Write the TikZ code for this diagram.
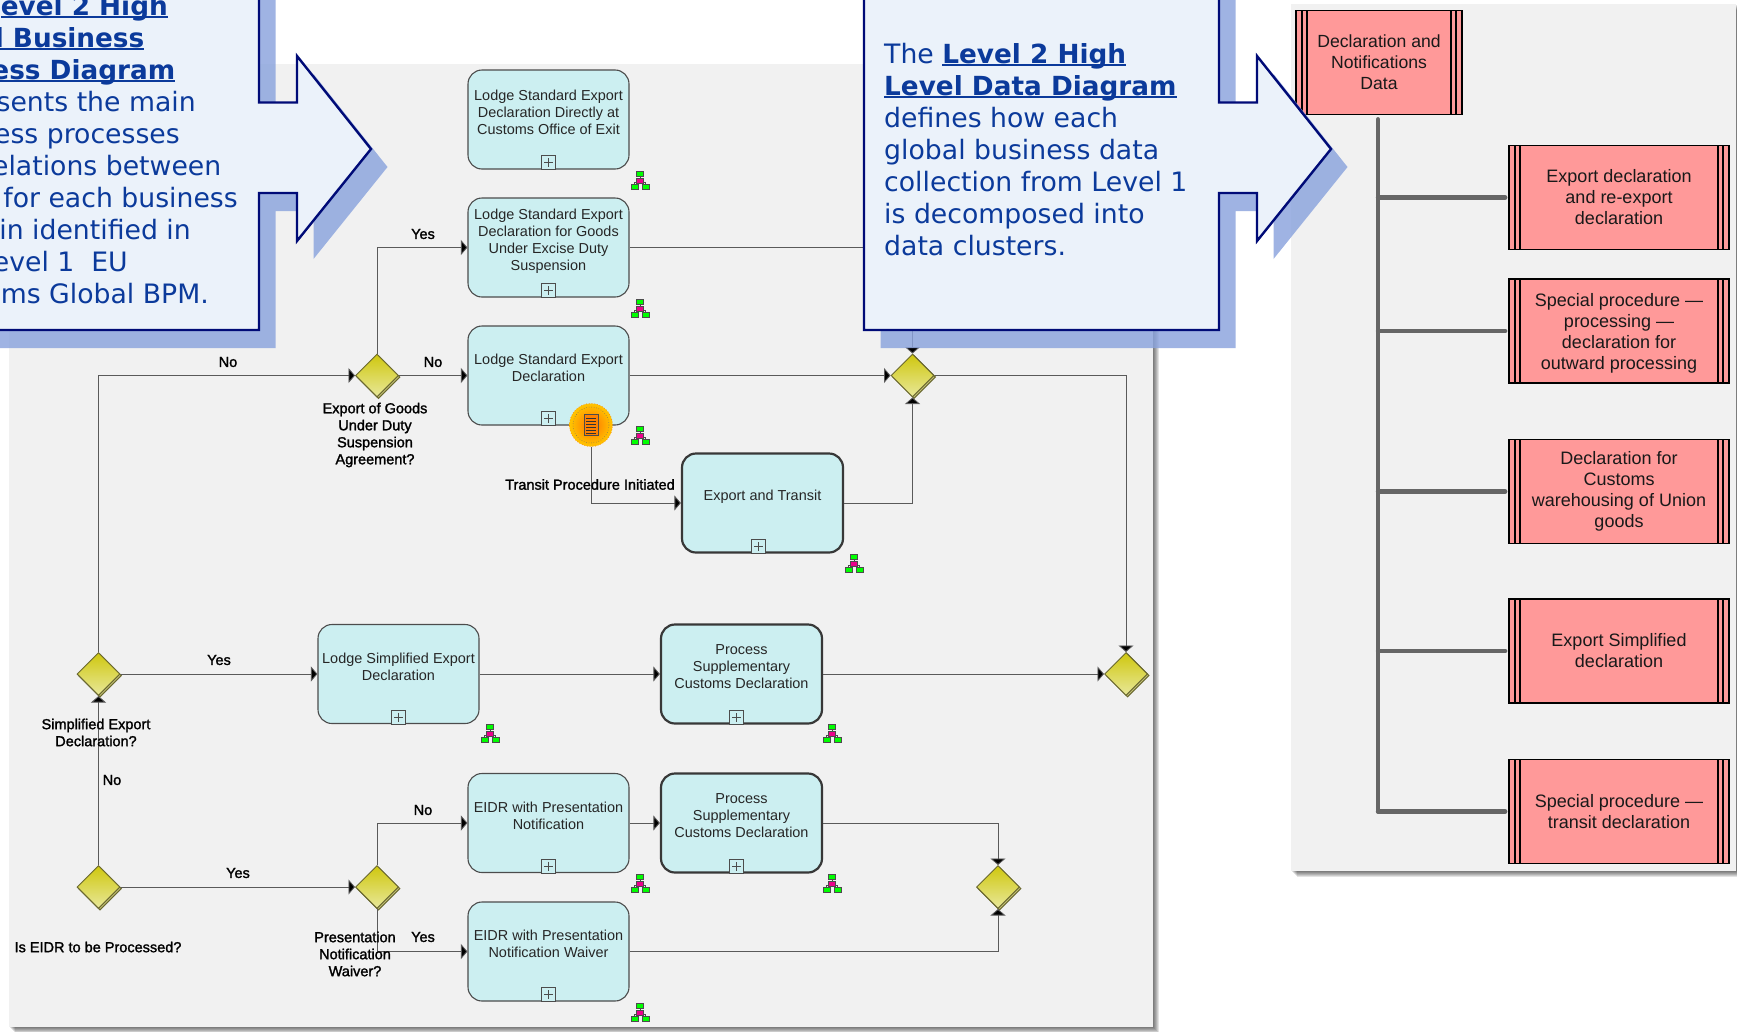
\documentclass[tikz,border=0pt]{standalone}
\usepackage{fontspec}
\usetikzlibrary{arrows.meta,shapes.geometric,shadows,calc}
\setmainfont{Liberation Sans}
\newfontfamily\lblfont{Liberation Sans}[FakeBold=1.6]
\newfontfamily\callfont{DejaVu Sans}
\definecolor{panelgray}{HTML}{F1F1F1}
\definecolor{taskfill}{HTML}{CCEFF1}
\definecolor{connc}{HTML}{5A5A5A}
\definecolor{redfill}{HTML}{FF9999}
\definecolor{callfill}{HTML}{EBF2FA}
\definecolor{callline}{HTML}{000B77}
\definecolor{callshadow}{HTML}{8AA3DD}
\definecolor{calltext}{HTML}{0B3A9B}
\definecolor{gatetop}{HTML}{CFC70E}
\definecolor{gatebot}{HTML}{E8E89A}
\definecolor{gateline}{HTML}{6A6830}
\definecolor{gateshad}{HTML}{C9C77A}
\newcommand{\tasktxt}[1]{\raisebox{2pt}[0pt][0pt]{\begin{tabular}[c]{@{}c@{}}#1\end{tabular}}}
\newsavebox{\ulbox}
\newcommand{\ulbold}[1]{\sbox{\ulbox}{\fontsize{26.3}{32}\selectfont\bfseries #1}\rlap{\usebox{\ulbox}}\rule[-3pt]{\wd\ulbox}{2.2pt}}
\tikzset{
  x=1pt,y=-1pt,
  taskbox/.style={draw=black!70,line width=1.1pt,fill=taskfill,rounded corners=14pt,minimum width=161pt,minimum height=99pt,inner sep=0pt,text=black!85,font=\fontsize{14.45}{17}\selectfont,align=center},
  thicktask/.style={taskbox,draw=black!78,line width=2.2pt},
  gate/.style={diamond,aspect=1,draw=gateline,line width=1pt,top color=gatetop,bottom color=gatebot,minimum width=43pt,minimum height=43pt,inner sep=0pt,copy shadow={shadow xshift=1.5pt,shadow yshift=-1.5pt,fill=gateshad,draw=gateline,opacity=1}},
  conn/.style={draw=connc,line width=.85pt,-{Triangle[length=6.5pt,width=15pt,fill=black]}},
  lbl/.style={font=\lblfont\fontsize{14.5}{17}\selectfont,align=center,inner sep=0pt,text=black},
  marker/.style={draw=black!70,line width=.7pt,fill=taskfill,minimum size=14pt,inner sep=0pt},
  redbox/.style={draw=black,line width=1.6pt,fill=redfill,inner sep=0pt,align=center,text=black!90,font=\fontsize{18}{21}\selectfont,
    path picture={
      \path (path picture bounding box.south west) coordinate (@sw) (path picture bounding box.north east) coordinate (@ne);
      \draw[black,line width=1.4pt] ([xshift=6pt]@sw) -- ([xshift=6pt]@sw |- @ne);
      \draw[black,line width=1.4pt] ([xshift=11pt]@sw) -- ([xshift=11pt]@sw |- @ne);
      \draw[black,line width=1.4pt] ([xshift=-6pt]@ne) -- ([xshift=-6pt]@ne |- @sw);
      \draw[black,line width=1.4pt] ([xshift=-11pt]@ne) -- ([xshift=-11pt]@ne |- @sw);
    }},
  trunkline/.style={draw=black!60,line width=4.4pt,line cap=round},
  callshape/.style={draw=callline,line width=2.4pt,fill=callfill,line join=miter},
  callshad/.style={fill=callshadow,opacity=.82},
  calltxt/.style={font=\callfont\fontsize{26.7}{32}\selectfont,text=calltext,inner sep=0pt},
  orgicon/.pic={
    \draw[black!70,line width=.5pt] (0,-5) -- (0,0) (-5.5,6) -- (-5.5,2) -- (5.5,2) -- (5.5,6);
    \draw[black!70,line width=.5pt,fill=green] (-3.5,-9) rectangle (3.5,-4);
    \draw[black!70,line width=.5pt,fill=magenta] (-3.5,-2) rectangle (3.5,3);
    \draw[black!70,line width=.5pt,fill=green] (-9,4) rectangle (-2,9);
    \draw[black!70,line width=.5pt,fill=green] (2,4) rectangle (9,9);
  }
}
\begin{document}
\begin{tikzpicture}
\path[use as bounding box] (0,0) rectangle (1737,1031);
\fill[white] (0,0) rectangle (1737,1031);
% panels with soft shadow
\foreach \d in {1,2,3,4,5,6}{
  \fill[black,opacity=.11] (9+\d,64+\d) rectangle (1153+\d,1027+\d);
  \fill[black,opacity=.11] (1291+\d,4+\d) rectangle (1736+\d,871+\d);
}
\fill[panelgray] (9,64) rectangle (1153,1027);
\fill[panelgray] (1291,4) rectangle (1736,871);

% tasks
\node[taskbox] (t1) at (548.5,119.5) {\tasktxt{Lodge Standard Export\\Declaration Directly at\\Customs Office of Exit}};
\node[taskbox] (t2) at (548.5,247.5) {\tasktxt{Lodge Standard Export\\Declaration for Goods\\Under Excise Duty\\Suspension}};
\node[taskbox] (t3) at (548.5,375.5) {\tasktxt{Lodge Standard Export\\Declaration}};
\node[thicktask] (et) at (762.5,503) {\tasktxt{Export and Transit}};
\node[taskbox] (ls) at (398.5,674) {\tasktxt{Lodge Simplified Export\\Declaration}};
\node[thicktask] (ps1) at (741.5,674) {\tasktxt{Process\\Supplementary\\Customs Declaration}};
\node[taskbox] (e1) at (548.5,823) {\tasktxt{EIDR with Presentation\\Notification}};
\node[thicktask] (ps2) at (741.5,823) {\tasktxt{Process\\Supplementary\\Customs Declaration}};
\node[taskbox] (e2) at (548.5,951.5) {\tasktxt{EIDR with Presentation\\Notification Waiver}};

% gateways
\node[gate] (g1) at (377,375.5) {};
\node[gate] (sim) at (98.5,674) {};
\node[gate] (eidr) at (98.5,887) {};
\node[gate] (pres) at (377,887) {};
\node[gate] (m1) at (912.5,375.5) {};
\node[gate] (mr) at (1126,674) {};
\node[gate] (ml) at (998,887) {};

% expand markers
\foreach \tt/\dx in {t1/0,t2/0,t3/0,et/-4,ls/0,ps1/-5,e1/0,ps2/-5,e2/0}{
  \node[marker] (mk\tt) at ($(\tt.south)+(\dx,-7)$) {};
  \draw[black!70,line width=.6pt] ($(mk\tt.center)+(-4.5,0)$) -- ($(mk\tt.center)+(4.5,0)$) ($(mk\tt.center)+(0,-4.5)$) -- ($(mk\tt.center)+(0,4.5)$);
}

% intermediate event
\node[circle,minimum size=43pt,inner sep=0pt,draw=orange,line width=.7pt,dotted,inner color=orange!90!red,outer color=yellow!55!orange] (ev) at (591,425) {};
\draw[black!60,line width=.5pt,dotted] (ev.center) circle (18);
\draw[black!70,line width=.8pt,fill=orange] (584,414.5) rectangle (598,435.5);
\foreach \yy in {418,421,424,427,430,433}{\draw[black!80,line width=.9pt] (586,\yy) -- (596,\yy);}

% connectors
\draw[conn] (sim.north) |- (g1.west);
\draw[conn] (g1.north) |- (t2.west);
\draw[conn] (g1.east) -- (t3.west);
\draw[conn] (t2.east) -| (m1.north);
\draw[conn] (t3.east) -- (m1.west);
\draw[conn] (ev.south) |- (et.west);
\draw[conn] (et.east) -| (m1.south);
\draw[conn] (m1.east) -| (mr.north);
\draw[conn] (sim.east) -- (ls.west);
\draw[conn] (ls.east) -- (ps1.west);
\draw[conn] (ps1.east) -- (mr.west);
\draw[conn] (eidr.north) -- (sim.south);
\draw[conn] (eidr.east) -- (pres.west);
\draw[conn] (pres.north) |- (e1.west);
\draw[conn] (pres.south) |- (e2.west);
\draw[conn] (e1.east) -- (ps2.west);
\draw[conn] (ps2.east) -| (ml.north);
\draw[conn] (e2.east) -| (ml.south);

% org icons
\foreach \xx/\yy in {640/180,640/308,640/435,854/563,490/733,832/733,640/883,832/883,640/1012}{
  \pic at (\xx,\yy) {orgicon};
}

% flow labels
\node[lbl] (l1) at (423,234) {Yes};
\node[lbl] (l2) at (433,362) {No};
\node[lbl] (l3) at (228,362) {No};
\node[lbl] (l4) at (375,435) {Export of Goods\\Under Duty\\Suspension\\Agreement?};
\node[lbl] (l5) at (590,484.5) {Transit Procedure Initiated};
\node[lbl] (l6) at (219,660) {Yes};
\node[lbl] (l7) at (96,732.5) {Simplified Export\\Declaration?};
\node[lbl] (l8) at (112,780) {No};
\node[lbl] (l9) at (238,873) {Yes};
\node[lbl] (l10) at (98,947) {Is EIDR to be Processed?};
\node[lbl] (l11) at (423,810) {No};
\node[lbl] (l12) at (423,937) {Yes};
\node[lbl] (l13) at (355,954) {Presentation\\Notification\\Waiver?};

% red hierarchy
\node[redbox,minimum width=166pt,minimum height=104pt,font=\fontsize{17.6}{21}\selectfont] (root) at (1379,62.5) {Declaration and\\Notifications\\Data};
\node[redbox,minimum width=220pt,minimum height=104pt] (c1) at (1619,197.5) {Export declaration\\and re-export\\declaration};
\node[redbox,minimum width=220pt,minimum height=104pt] (c2) at (1619,331) {\rule{0pt}{18pt}Special procedure —\\processing —\\declaration for\\outward processing};
\node[redbox,minimum width=220pt,minimum height=104pt] (c3) at (1619,491.5) {Declaration for\\Customs\\warehousing of Union\\goods};
\node[redbox,minimum width=220pt,minimum height=104pt] (c4) at (1619,651) {Export Simplified\\declaration};
\node[redbox,minimum width=220pt,minimum height=104pt] (c5) at (1619,811.5) {Special procedure —\\transit declaration};
\coordinate (tk) at ($(root.south)+(-1,4)$);
\coordinate (tk5) at (tk |- c5.west);
\draw[trunkline] (tk) -- (tk5);
\foreach \cc in {c1,c2,c3,c4,c5}{
  \draw[trunkline] (tk |- \cc.west) -- ($(\cc.west)+(-3,0)$);
}

% left callout
\path[callshad,shift={(16.5,18)}] (-30,-30) -- (259,-30) -- (259,102.5) -- (297,102.5) -- (297,56) -- (371,149) -- (297,241) -- (297,193) -- (259,193) -- (259,330) -- (-30,330) -- cycle;
\path[callshape] (-30,-30) -- (259,-30) -- (259,102.5) -- (297,102.5) -- (297,56) -- (371,149) -- (297,241) -- (297,193) -- (259,193) -- (259,330) -- (-30,330) -- cycle;
\node[calltxt,anchor=base east] (a1) at (168,15) {\ulbold{evel 2 High}};
\node[calltxt,anchor=base east] (a2) at (144.5,47) {\ulbold{l Business}};
\node[calltxt,anchor=base east] (a3) at (175.5,79) {\ulbold{ess Diagram}};
\node[calltxt,anchor=base east] (a4) at (196,111) {sents the main};
\node[calltxt,anchor=base east] (a5) at (180,143) {ess processes};
\node[calltxt,anchor=base east] (a6) at (221.5,175) {elations between};
\node[calltxt,anchor=base east] (a7) at (238,207) {for each business};
\node[calltxt,anchor=base east] (a8) at (191,239) {in identified in};
\node[calltxt,anchor=base east] (a9) at (128,271) {evel 1\ \ EU};
\node[calltxt,anchor=base east] (a10) at (209,303) {ms Global BPM.};

% right callout
\path[callshad,shift={(16.5,18)}] (864,-30) -- (1219,-30) -- (1219,102.5) -- (1257,102.5) -- (1257,56) -- (1331,149) -- (1257,241) -- (1257,193) -- (1219,193) -- (1219,330) -- (864,330) -- cycle;
\path[callshape] (864,-30) -- (1219,-30) -- (1219,102.5) -- (1257,102.5) -- (1257,56) -- (1331,149) -- (1257,241) -- (1257,193) -- (1219,193) -- (1219,330) -- (864,330) -- cycle;
\node[calltxt,anchor=north west,align=left] (b1) at (884,43) {The \ulbold{Level 2 High}\\\ulbold{Level Data Diagram}\\defines how each\\global business data\\collection from Level 1\\is decomposed into\\data clusters.};
\end{tikzpicture}
\end{document}
